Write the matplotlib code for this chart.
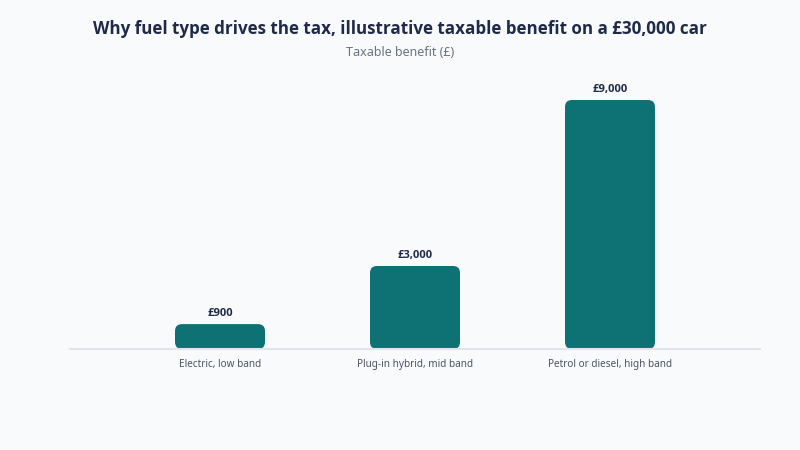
import matplotlib
matplotlib.use("Agg")
import matplotlib.pyplot as plt
from matplotlib.patches import FancyBboxPatch

categories = ["Electric, low band", "Plug-in hybrid, mid band", "Petrol or diesel, high band"]
values = [900, 3000, 9000]
value_labels = ["£900", "£3,000", "£9,000"]

plt.rcParams['font.family'] = ['Noto Sans', 'DejaVu Sans']

BG = "#f8fafc"
TEAL = "#0e7274"
NAVY = "#1e2a48"

fig = plt.figure(figsize=(8, 4.5), dpi=100, facecolor=BG)
ax = fig.add_axes([70/800, 1 - 349/450, 690/800, (349 - 80)/450])
ax.set_facecolor(BG)

x = list(range(len(categories)))
ymax = 9000 * 269 / 249
ax.set_xlim(-150/195, 540/195)
ax.set_ylim(0, ymax)

bw = 90/195
r_x = 7/195
r_y = 7 * ymax / 269
bars = ax.bar(x, values, width=bw, color=TEAL)
for b in bars:
    b.set_visible(False)
    p = FancyBboxPatch((b.get_x(), b.get_y()), b.get_width(), b.get_height(),
                       boxstyle=f"round,pad=0,rounding_size={r_x}",
                       mutation_aspect=r_y / r_x,
                       facecolor=TEAL, edgecolor="none", zorder=2)
    ax.add_patch(p)

for xi, v, lab in zip(x, values, value_labels):
    ax.annotate(lab, (xi, v), xytext=(0, 3.5), textcoords="offset points",
                ha="center", va="bottom", fontsize=8, fontweight="bold", color=NAVY,
                family=["Open Sans", "DejaVu Sans"])

for s in ["top", "right", "left"]:
    ax.spines[s].set_visible(False)
ax.spines["bottom"].set_color("#e2e5ea")
ax.spines["bottom"].set_linewidth(1.5)
ax.set_yticks([])
ax.set_xticks(x)
ax.set_xticklabels(categories, fontsize=7.2, color="#4b5563")
ax.tick_params(axis="x", length=0, pad=7)

fig.text(0.5, 1 - 29.5/450, "Why fuel type drives the tax, illustrative taxable benefit on a £30,000 car",
         ha="center", va="center", fontsize=12.25, fontweight="bold", color=NAVY,
         family=["Open Sans", "DejaVu Sans"])
fig.text(0.5, 1 - 52/450, "Taxable benefit (£)", ha="center", va="center",
         fontsize=9, color="#6b7280")

fig.savefig("out.png", dpi=100, facecolor=BG)
